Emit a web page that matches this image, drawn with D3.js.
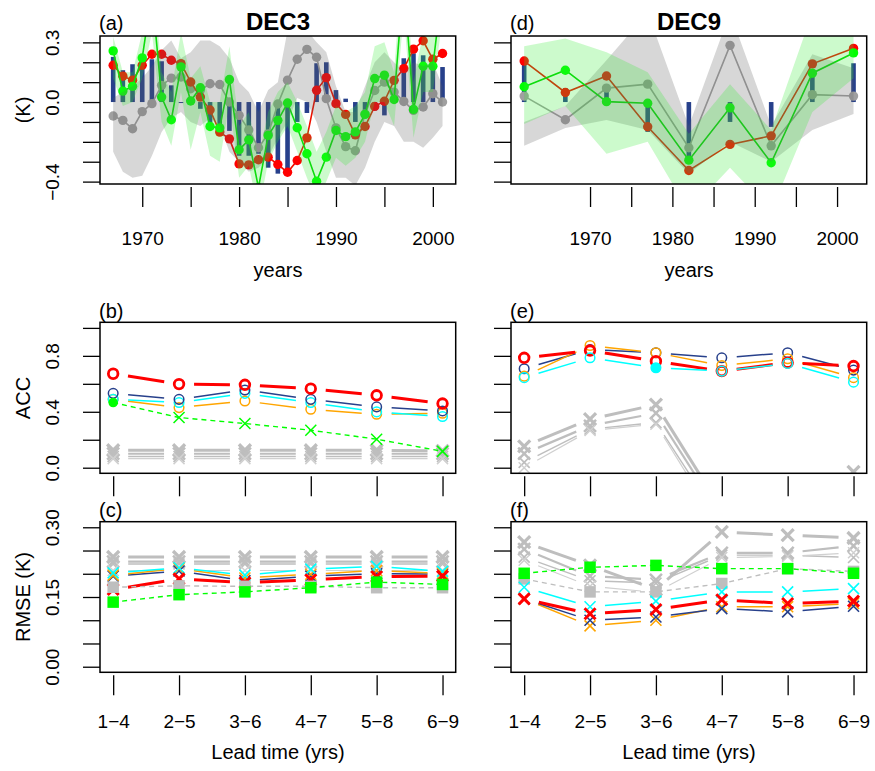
<!DOCTYPE html>
<html><head><meta charset="utf-8">
<script src="https://cdn.jsdelivr.net/npm/d3@7"></script>
<style>body{margin:0;background:#fff} text{font-family:"Liberation Sans",Arial,Helvetica,sans-serif}</style>
</head><body><svg id="c" width="875" height="771"></svg>
<script>
// ---------------- DATA ----------------
const yearsDec3 = [1967,1968,1969,1970,1971,1972,1973,1974,1975,1976,1977,1978,1979,1980,1981,1982,1983,1984,1985,1986,1987,1988,1989,1990,1991,1992,1993,1994,1995,1996,1997,1998,1999,2000,2001];
const barsDec3  = [0.227,0.16,0.19,0.2,0.215,0.205,0.084,-0.005,0.0,-0.034,-0.118,-0.15,-0.145,-0.27,-0.27,-0.26,-0.33,-0.36,-0.35,-0.1,-0.055,0.195,0.2,0.06,0.017,-0.1,-0.067,-0.042,-0.067,0.06,0.22,0.245,0.235,0.235,0.176];
const redDec3   = [0.185,0.13,0.11,0.185,0.24,0.24,0.21,0.193,0.101,0.025,-0.04,-0.151,-0.185,-0.311,-0.316,-0.29,-0.277,-0.314,-0.353,-0.294,-0.18,0.059,0.123,-0.008,-0.062,-0.165,-0.123,-0.022,0.004,0.109,0.168,0.266,0.308,0.215,0.244];
const greenDec3 = [0.257,0.055,0.079,0.222,0.55,0.025,-0.089,0.177,0.005,0.072,-0.123,-0.13,0.113,-0.24,-0.19,-0.43,-0.168,-0.092,-0.005,-0.129,-0.26,-0.398,-0.277,-0.143,-0.174,-0.15,-0.062,0.118,0.135,0.013,0.62,-0.037,0.18,0.18,0.585];
const grayDec3  = [-0.07,-0.092,-0.134,-0.048,-0.008,0.084,0.12,0.126,0.067,0.06,0.092,0.088,0.0,-0.067,-0.14,-0.23,-0.16,-0.01,0.11,0.215,0.265,0.225,0.017,-0.13,-0.224,-0.245,-0.06,0.058,0.1,0.05,0.003,-0.042,-0.025,0.042,0.0];
const grayHiDec3 = [0.02,0.05,0.08,0.12,0.18,0.26,0.31,0.22,0.25,0.31,0.31,0.28,0.22,0.1,0.05,-0.05,0.06,0.1,0.36,0.36,0.36,0.3,0.25,0.08,-0.05,-0.05,0.08,0.2,0.25,0.2,0.15,0.2,0.18,0.2,0.08];
const grayLoDec3 = [-0.25,-0.35,-0.38,-0.37,-0.27,-0.15,-0.08,-0.05,-0.1,-0.12,-0.08,-0.12,-0.25,-0.3,-0.35,-0.33,-0.28,-0.18,-0.1,0.02,0.0,-0.1,-0.25,-0.38,-0.38,-0.42,-0.33,-0.2,-0.1,-0.12,-0.2,-0.2,-0.23,-0.18,-0.12];
const greenHiDec3 = [0.33,0.15,0.15,0.35,0.7,0.15,0.05,0.35,0.12,0.18,0.0,0.0,0.28,-0.12,-0.05,-0.28,-0.05,0.05,0.1,0.0,-0.12,-0.25,-0.15,-0.02,-0.05,-0.02,0.05,0.28,0.3,0.15,0.8,0.1,0.35,0.33,0.75];
const greenLoDec3 = [0.12,-0.02,0.0,0.12,0.35,-0.1,-0.22,0.05,-0.24,-0.05,-0.27,-0.3,0.0,-0.38,-0.32,-0.55,-0.3,-0.2,-0.12,-0.25,-0.38,-0.5,-0.4,-0.28,-0.32,-0.28,-0.2,0.0,0.0,-0.12,0.45,-0.18,0.05,0.05,0.42];

const yearsDec9 = [1962,1967,1972,1977,1982,1987,1992,1997,2002];
const barsDec9  = [0.19,0.07,0.06,-0.15,-0.29,-0.1,-0.125,0.16,0.195];
const redDec9   = [0.206,0.048,0.131,-0.124,-0.344,-0.213,-0.17,0.192,0.27];
const greenDec9 = [0.077,0.16,0.002,-0.006,-0.292,-0.029,-0.305,0.145,0.247];
const grayDec9  = [0.03,-0.089,0.07,0.09,-0.23,0.285,-0.22,0.037,0.03];
const grayHiDec9 = [-0.1,-0.02,0.21,0.45,-0.12,0.45,-0.12,0.24,0.17];
const grayLoDec9 = [-0.22,-0.13,-0.09,-0.14,-0.36,-0.2,-0.3,-0.14,-0.06];
const greenHiDec9 = [0.28,0.32,0.25,0.15,-0.16,0.09,-0.14,0.45,0.42];
const greenLoDec9 = [-0.11,-0.02,-0.26,-0.2,-0.55,-0.33,-0.55,-0.05,0.12];

const leadLabels = ["1\u22124","2\u22125","3\u22126","4\u22127","5\u22128","6\u22129"];
const leadIdx = [1,2,3,4,5,6];

// ACC DEC3
const accRed3    = [0.672,0.598,0.593,0.565,0.518,0.459];
const accNavy3   = [0.532,0.489,0.556,0.489,0.435,0.406];
const accCyan3   = [0.49,0.466,0.532,0.466,0.399,0.366];
const accOrange3 = [0.489,0.43,0.477,0.418,0.382,0.389];
const accGreen3  = [0.466,0.359,0.316,0.268,0.204,0.117];
const accGrayA3  = [0.125,0.125,0.125,0.125,0.125,0.12];
const accGrayB3  = [0.1,0.1,0.1,0.1,0.1,0.1];
const accGrayC3  = [0.08,0.08,0.08,0.08,0.08,0.08];
const accGrayD3  = [0.065,0.065,0.065,0.065,0.065,0.065];
// ACC DEC9
const accRed9    = [0.786,0.838,0.762,0.691,0.751,0.727];
const accNavy9   = [0.708,0.845,0.822,0.786,0.822,0.698];
const accOrange9 = [0.655,0.874,0.822,0.731,0.779,0.644];
const accCyan9   = [0.644,0.786,0.715,0.691,0.746,0.612];
const accGrayA9  = [0.152,0.347,0.451,-0.3,-0.3,-0.03];
const accGrayB9  = [0.1,0.3,0.39,-0.35,-0.35,-0.2];
const accGrayC9  = [0.038,0.276,0.323,-0.4,-0.4,-0.3];
const accGrayD9  = [0.0,0.266,0.311,-0.45,-0.45,-0.4];
// RMSE DEC3
const rmseRed3    = [0.166,0.189,0.181,0.187,0.194,0.195];
const rmseNavy3   = [0.195,0.206,0.185,0.195,0.2,0.199];
const rmseOrange3 = [0.197,0.211,0.191,0.199,0.207,0.201];
const rmseCyan3   = [0.202,0.213,0.197,0.21,0.216,0.205];
const rmseGreen3  = [0.139,0.155,0.161,0.17,0.182,0.177];
const rmseGraySq3 = [0.171,0.174,0.173,0.173,0.17,0.17];
const rmseGrayA3  = [0.236,0.236,0.236,0.236,0.236,0.236];
const rmseGrayB3  = [0.226,0.226,0.226,0.226,0.226,0.226];
const rmseGrayC3  = [0.221,0.221,0.221,0.221,0.221,0.221];
const rmseGrayD3  = [0.207,0.207,0.207,0.207,0.207,0.207];
// RMSE DEC9
const rmseRed9    = [0.146,0.114,0.123,0.144,0.136,0.141];
const rmseNavy9   = [0.146,0.100,0.107,0.125,0.118,0.130];
const rmseOrange9 = [0.146,0.088,0.100,0.129,0.129,0.136];
const rmseCyan9   = [0.171,0.129,0.141,0.161,0.161,0.168];
const rmseGreen9  = [0.201,0.214,0.218,0.211,0.211,0.201];
const rmseGraySq9 = [0.189,0.161,0.161,0.179,0.211,0.205];
const rmseGrayA9  = [0.268,0.218,0.166,0.29,0.283,0.277];
const rmseGrayB9  = [0.253,0.195,0.187,0.245,0.245,0.26];
const rmseGrayC9  = [0.236,0.185,0.18,0.24,0.24,0.235];
const rmseGrayD9  = [0.229,0.173,0.16,0.235,0.237,0.245];

const tsTicks = [-0.4,-0.3,-0.2,-0.1,0.0,0.1,0.2,0.3];
const tsTickLabels = ["\u22120.4","","","","0.0","","","0.3"];
const yearTicks = [1970,1975,1980,1985,1990,1995,2000];
const yearTickLabels = ["1970","","1980","","1990","","2000"];
const accTicks = [0,0.2,0.4,0.6,0.8,1.0];
const accTickLabels = ["0.0","","0.4","","0.8",""];
const rmseTicks = [0,0.05,0.1,0.15,0.2,0.25,0.3];
const rmseTickLabels = ["0.00","","","0.15","","","0.30"];

// ---------------- STYLE ----------------
const NAVY="#27408B", RED="#FF0000", GRN="#00FF00", GRNL="#00D800", ORG="#FFA500", CYN="#00FFFF";
const GRAYPT="#A0A0A0", GRAYX="#BEBEBE", GRAYL="#D0D0D0";
const TICKFS = 19, TITLEFS = 20;
const svg = d3.select("#c");
const L = {x0:100, x1:455.7}, R = {x0:511, x1:866.7};
const ROW = [{y0:36,y1:184},{y0:322.3,y1:473.3},{y0:521.7,y1:672.3}];
let clipN = 0;

function panel(col,row,xd,yd){
  const xs = d3.scaleLinear().domain(xd).range([col.x0,col.x1]);
  const ys = d3.scaleLinear().domain(yd).range([row.y1,row.y0]);
  const id = "clp"+(clipN++);
  svg.append("clipPath").attr("id",id).append("rect")
    .attr("x",col.x0).attr("y",row.y0).attr("width",col.x1-col.x0).attr("height",row.y1-row.y0);
  const g = svg.append("g").attr("clip-path",`url(#${id})`);
  return {xs,ys,g,col,row};
}
function box(p){
  svg.append("rect").attr("x",p.col.x0).attr("y",p.row.y0)
    .attr("width",p.col.x1-p.col.x0).attr("height",p.row.y1-p.row.y0)
    .attr("fill","none").attr("stroke","#000").attr("stroke-width",1.5);
}
function yAxis(p,ticks,labels,show){
  const ax = d3.axisLeft(p.ys).tickValues(ticks).tickSize(17).tickSizeOuter(0)
    .tickFormat((d,i)=> show ? labels[i] : "");
  const a = svg.append("g").attr("transform",`translate(${p.col.x0},0)`).call(ax);
  a.select(".domain").remove();
  a.selectAll("line").attr("stroke","#000").attr("stroke-width",1.3);
  a.selectAll("text").attr("x",0).attr("dy",0).attr("text-anchor","middle")
    .attr("transform","translate(-41,0) rotate(-90)").attr("fill","#000").style("font-size",TICKFS+"px");
}
function xAxis(p,ticks,labels,show,labOff){
  const ax = d3.axisBottom(p.xs).tickValues(ticks).tickSize(20).tickSizeOuter(0)
    .tickFormat((d,i)=> show ? labels[i] : "");
  const a = svg.append("g").attr("transform",`translate(0,${p.row.y1+3})`).call(ax);
  a.select(".domain").remove();
  a.selectAll("line").attr("stroke","#000").attr("stroke-width",1.3);
  a.selectAll("text").attr("y",labOff).attr("dy",0).attr("fill","#000").style("font-size",TICKFS+"px");
}
function txt(x,y,s,size,opts={}){
  const t = svg.append("text").attr("x",x).attr("y",y).text(s).style("font-size",size+"px")
    .attr("text-anchor",opts.anchor||"start").attr("fill","#000");
  if(opts.bold) t.style("font-weight","bold");
  if(opts.rot) t.attr("transform",`rotate(-90,${x},${y})`);
  return t;
}

// ---------- time-series panels ----------
function tsPanel(p, years, bars, gray, red, green, gHi, gLo, nHi, nLo){
  const g = p.g;
  const bw = 4.6;
  g.selectAll(null).data(bars).enter().append("rect")
    .attr("x",(d,i)=>p.xs(years[i])-bw/2).attr("width",bw)
    .attr("y",d=>Math.min(p.ys(d),p.ys(0))).attr("height",d=>Math.abs(p.ys(d)-p.ys(0)))
    .attr("fill",NAVY);
  const line = d3.line().x((d,i)=>p.xs(years[i])).y(d=>p.ys(d));
  [[gray,GRAYPT,GRAYPT],[red,"#EE1100",RED],[green,GRNL,GRN]].forEach(([s,lc,pc])=>{
    g.append("path").attr("d",line(s)).attr("fill","none").attr("stroke",lc).attr("stroke-width",1.6);
    g.selectAll(null).data(s).enter().append("circle")
      .attr("cx",(d,i)=>p.xs(years[i])).attr("cy",d=>p.ys(d)).attr("r",4.7).attr("fill",pc);
  });
  const area = (hi,lo)=> d3.area().x((d,i)=>p.xs(years[i])).y0((d,i)=>p.ys(lo[i])).y1(d=>p.ys(d))(hi);
  g.append("path").attr("d",area(gHi,gLo)).attr("fill","rgb(95,95,95)").attr("fill-opacity",0.25);
  g.append("path").attr("d",area(nHi,nLo)).attr("fill","rgb(50,236,50)").attr("fill-opacity",0.25);
}

const pa = panel(L,ROW[0],[1965.64,2002.36],[-0.412,0.332]);
tsPanel(pa, yearsDec3, barsDec3, grayDec3, redDec3, greenDec3, grayHiDec3, grayLoDec3, greenHiDec3, greenLoDec3);
box(pa); yAxis(pa,tsTicks,tsTickLabels,true); xAxis(pa,yearTicks,yearTickLabels,true,58);

const pd = panel(R,ROW[0],[1960.4,2003.6],[-0.412,0.332]);
tsPanel(pd, yearsDec9, barsDec9, grayDec9, redDec9, greenDec9, grayHiDec9, grayLoDec9, greenHiDec9, greenLoDec9);
box(pd); yAxis(pd,tsTicks,tsTickLabels,false); xAxis(pd,yearTicks,yearTickLabels,true,58);

// ---------- skill panels ----------
function segB(p, vals, color, w, gap=15, dash=null){
  const pts = vals.map((v,i)=>[p.xs(leadIdx[i]),p.ys(v)]);
  for(let i=0;i<pts.length-1;i++){
    const [x1,y1]=pts[i],[x2,y2]=pts[i+1];
    const dx=x2-x1, dy=y2-y1, Ln=Math.hypot(dx,dy);
    if(Ln<=2*gap) continue;
    const ux=dx/Ln, uy=dy/Ln;
    p.g.append("line").attr("x1",x1+ux*gap).attr("y1",y1+uy*gap).attr("x2",x2-ux*gap).attr("y2",y2-uy*gap)
      .attr("stroke",color).attr("stroke-width",w).attr("stroke-dasharray",dash);
  }
}
function fullLine(p, vals, color, w, dash){
  p.g.append("path").attr("d",d3.line().x((d,i)=>p.xs(leadIdx[i])).y(d=>p.ys(d))(vals))
    .attr("fill","none").attr("stroke",color).attr("stroke-width",w).attr("stroke-dasharray",dash);
}
function circles(p, vals, color, w, filledIdx=[]){
  p.g.selectAll(null).data(vals).enter().append("circle")
    .attr("cx",(d,i)=>p.xs(leadIdx[i])).attr("cy",d=>p.ys(d)).attr("r",4.8)
    .attr("fill",(d,i)=>filledIdx.includes(i)?color:"none").attr("stroke",color).attr("stroke-width",w);
}
function crosses(p, vals, color, w, s=5.5, skip=[]){
  vals.forEach((v,i)=>{
    if(skip.includes(i)) return;
    const x=p.xs(leadIdx[i]), y=p.ys(v);
    p.g.append("path").attr("d",`M${x-s},${y-s}L${x+s},${y+s}M${x-s},${y+s}L${x+s},${y-s}`)
      .attr("stroke",color).attr("stroke-width",w).attr("fill","none");
  });
}
function squares(p, vals, color, s=11.5){
  p.g.selectAll(null).data(vals).enter().append("rect")
    .attr("x",(d,i)=>p.xs(leadIdx[i])-s/2).attr("y",d=>p.ys(d)-s/2).attr("width",s).attr("height",s).attr("fill",color);
}
function grayXSet(p, sets){
  const ws=[3,2.2,1.4,1.2], cs=[GRAYX,GRAYX,GRAYX,GRAYL];
  sets.forEach((s,k)=>{ segB(p,s,cs[k],ws[k]); crosses(p,s,cs[k],ws[k]+0.3,k<2?6:5.5); });
}
const xdL=[0.8,6.2];

// (b)
const pb = panel(L,ROW[1],xdL,[-0.04,1.04]);
grayXSet(pb,[accGrayA3,accGrayB3,accGrayC3,accGrayD3]);
[[accOrange3,ORG],[accCyan3,CYN],[accNavy3,NAVY]].forEach(([s,c])=>{segB(pb,s,c,1.5);circles(pb,s,c,1.5);});
segB(pb,accRed3,RED,3); circles(pb,accRed3,RED,2.8);
fullLine(pb,accGreen3,GRN,1.4,"5,4");
crosses(pb,accGreen3,GRN,1.5,5.5,[0]);
pb.g.append("circle").attr("cx",pb.xs(leadIdx[0])).attr("cy",pb.ys(accGreen3[0])).attr("r",4.8).attr("fill",GRN);
box(pb); yAxis(pb,accTicks,accTickLabels,true); xAxis(pb,leadIdx,leadLabels,false,0);

// (e)
const pe = panel(R,ROW[1],xdL,[-0.04,1.04]);
grayXSet(pe,[accGrayA9,accGrayB9,accGrayC9,accGrayD9]);
[[accNavy9,NAVY],[accOrange9,ORG]].forEach(([s,c])=>{segB(pe,s,c,1.5);circles(pe,s,c,1.5);});
segB(pe,accRed9,RED,3); circles(pe,accRed9,RED,2.8);
segB(pe,accCyan9,CYN,1.5); circles(pe,accCyan9,CYN,1.5,[2]);
box(pe); yAxis(pe,accTicks,accTickLabels,false); xAxis(pe,leadIdx,leadLabels,false,0);

// (c)
const pc = panel(L,ROW[2],xdL,[-0.012,0.312]);
grayXSet(pc,[rmseGrayA3,rmseGrayB3,rmseGrayC3,rmseGrayD3]);
[[rmseNavy3,NAVY],[rmseOrange3,ORG],[rmseCyan3,CYN]].forEach(([s,c])=>{segB(pc,s,c,1.5);crosses(pc,s,c,1.6);});
segB(pc,rmseRed3,RED,3); crosses(pc,rmseRed3,RED,3);
fullLine(pc,rmseGraySq3,GRAYX,1.4,"5,4"); squares(pc,rmseGraySq3,GRAYX);
fullLine(pc,rmseGreen3,GRN,1.4,"5,4"); squares(pc,rmseGreen3,GRN);
box(pc); yAxis(pc,rmseTicks,rmseTickLabels,true); xAxis(pc,leadIdx,leadLabels,true,53);

// (f)
const pf = panel(R,ROW[2],xdL,[-0.012,0.312]);
grayXSet(pf,[rmseGrayA9,rmseGrayB9,rmseGrayC9,rmseGrayD9]);
fullLine(pf,rmseGraySq9,GRAYX,1.4,"5,4"); squares(pf,rmseGraySq9,GRAYX);
fullLine(pf,rmseGreen9,GRN,1.4,"5,4"); squares(pf,rmseGreen9,GRN);
[[rmseOrange9,ORG],[rmseNavy9,NAVY],[rmseCyan9,CYN]].forEach(([s,c])=>{segB(pf,s,c,1.5);crosses(pf,s,c,1.6);});
segB(pf,rmseRed9,RED,3); crosses(pf,rmseRed9,RED,3);
box(pf); yAxis(pf,rmseTicks,rmseTickLabels,false); xAxis(pf,leadIdx,leadLabels,true,53);

// ---------- texts ----------
txt(99,30,"(a)",20); txt(510,30,"(d)",20);
txt(99,318,"(b)",20); txt(510,318,"(e)",20);
txt(99,517,"(c)",20); txt(510,517,"(f)",20);
txt(278,30,"DEC3",24,{anchor:"middle",bold:true});
txt(689,30,"DEC9",24,{anchor:"middle",bold:true});
txt(278,277,"years",TITLEFS,{anchor:"middle"});
txt(689,277,"years",TITLEFS,{anchor:"middle"});
txt(278,759,"Lead time (yrs)",TITLEFS,{anchor:"middle"});
txt(689,759,"Lead time (yrs)",TITLEFS,{anchor:"middle"});
txt(30,110,"(K)",TITLEFS,{anchor:"middle",rot:true});
txt(30,398,"ACC",TITLEFS,{anchor:"middle",rot:true});
txt(30,597,"RMSE (K)",TITLEFS,{anchor:"middle",rot:true});
</script></body></html>
